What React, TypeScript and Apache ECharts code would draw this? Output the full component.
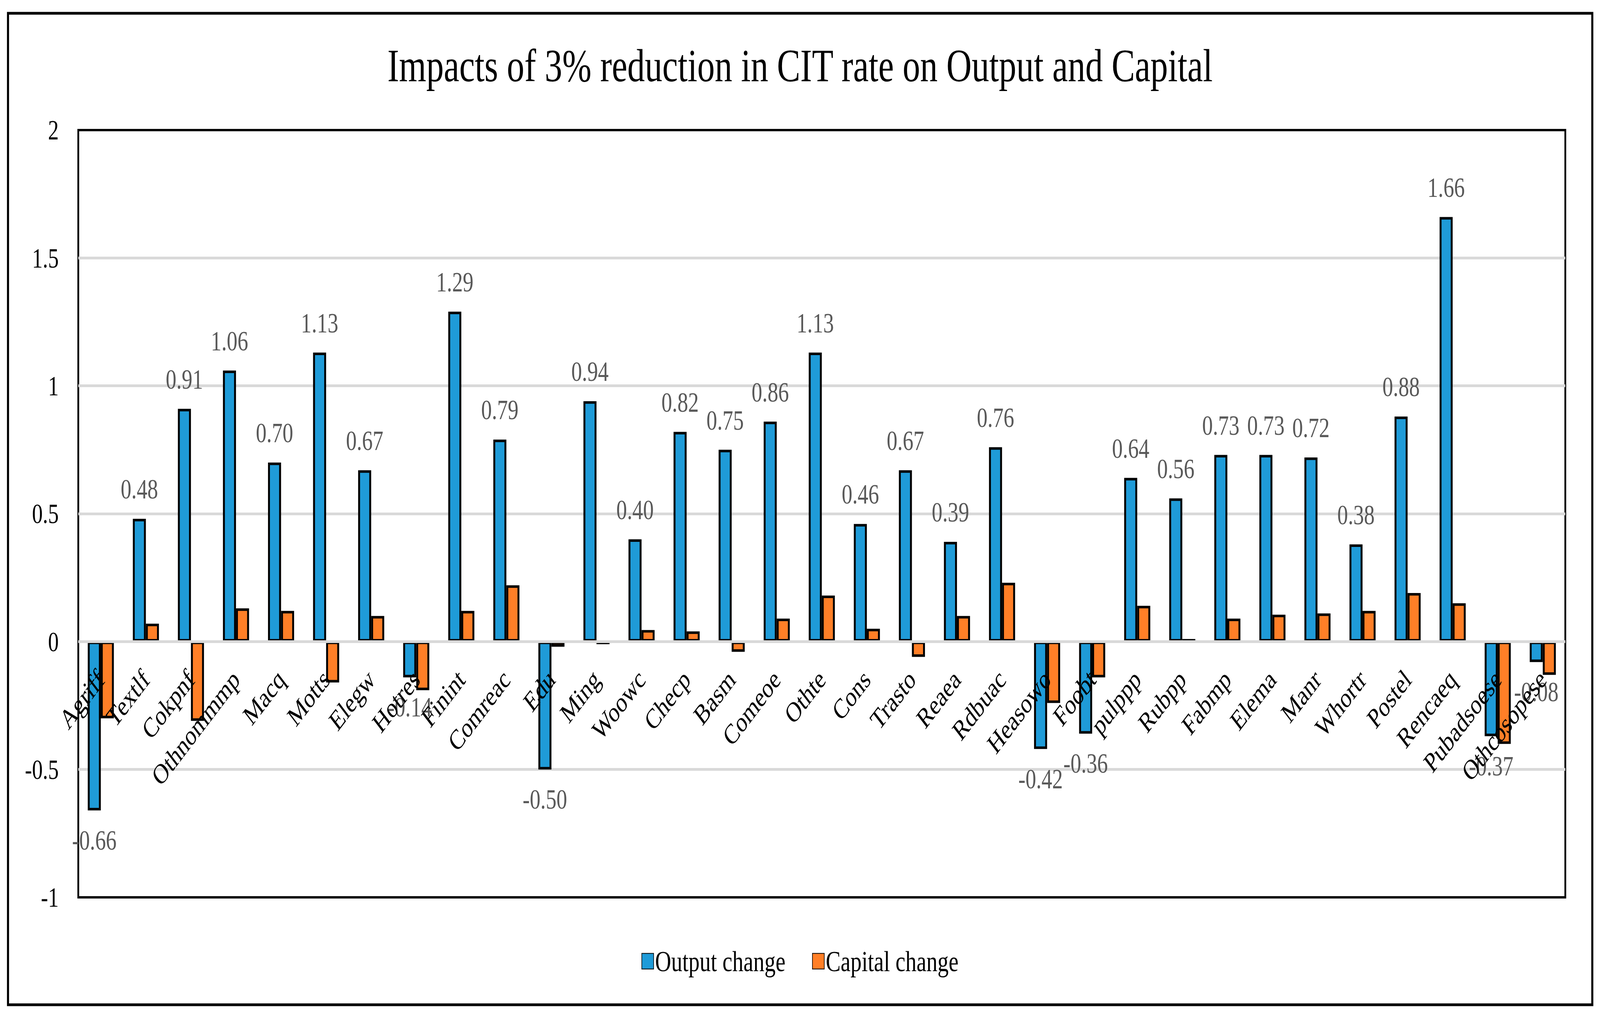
import React, { useEffect, useRef } from "react";
import * as echarts from "echarts";

const categories = [
  "Agriff", "Textlf", "Cokpnf", "Othnommmp", "Macq", "Motts", "Elegw", "Hotres",
  "Finint", "Comreac", "Edu", "Ming", "Woowc", "Checp", "Basm", "Comeoe", "Othte",
  "Cons", "Trasto", "Reaea", "Rdbuac", "Heasowo", "Foobt", "pulppp", "Rubpp",
  "Fabmp", "Elema", "Manr", "Whortr", "Postel", "Rencaeq", "Pubadsoese", "Othcosopese",
];

const outputChange = [
  -0.66, 0.48, 0.91, 1.06, 0.70, 1.13, 0.67, -0.14,
  1.29, 0.79, -0.50, 0.94, 0.40, 0.82, 0.75, 0.86, 1.13,
  0.46, 0.67, 0.39, 0.76, -0.42, -0.36, 0.64, 0.56,
  0.73, 0.73, 0.72, 0.38, 0.88, 1.66, -0.37, -0.08,
];

const capitalChange = [
  -0.30, 0.07, -0.31, 0.13, 0.12, -0.16, 0.10, -0.19,
  0.12, 0.22, -0.02, -0.01, 0.045, 0.04, -0.04, 0.09, 0.18,
  0.05, -0.06, 0.10, 0.23, -0.24, -0.14, 0.14, 0.01,
  0.09, 0.105, 0.11, 0.12, 0.19, 0.15, -0.40, -0.13,
];

const yTicks = { min: -1, max: 2, interval: 0.5 };

const seriesNames = ["Output change", "Capital change"];
const titleText = "Impacts of 3% reduction in CIT rate on Output and Capital";

const FONT = "'Liberation Serif', 'Times New Roman', serif";
const DESIGN_W = 5396;
const DESIGN_H = 2611;

export default function App() {
  const ref = useRef<HTMLDivElement>(null);

  useEffect(() => {
    const el = ref.current;
    if (!el) return;
    const vw = window.innerWidth || DESIGN_W;
    const vh = window.innerHeight || DESIGN_H;
    const sx = vw / DESIGN_W;
    const sy = vh / DESIGN_H;
    el.style.transform = `scale(${sx}, ${sy})`;
    const chart = echarts.init(el, null, { renderer: "svg" });
    const option = {
      animation: false,
      backgroundColor: "#ffffff",
      textStyle: { fontFamily: FONT },
      title: {
        text: titleText,
        left: "center",
        top: 105,
        textStyle: { fontFamily: FONT, fontSize: 118, fontWeight: "normal", color: "#000000" },
      },
      graphic: [
        {
          type: "rect",
          shape: { x: 27, y: 34, width: 5343, height: 2538 },
          style: { fill: "none", stroke: "#000000", lineWidth: 7 },
          silent: true,
          z: 100,
        },
      ],
      legend: {
        data: seriesNames,
        left: "center",
        top: 2418,
        itemWidth: 40,
        itemHeight: 40,
        itemGap: 90,
        icon: "rect",
        textStyle: { fontFamily: FONT, fontSize: 75, color: "#000000" },
      },
      grid: {
        left: 264,
        right: 117,
        top: 333,
        bottom: 314,
        show: true,
        borderColor: "#000000",
        borderWidth: 6,
        backgroundColor: "transparent",
        containLabel: false,
      },
      xAxis: {
        type: "category",
        data: categories,
        z: 10,
        axisLine: { show: false, onZero: false },
        axisTick: { show: false },
        axisLabel: {
          interval: 0,
          rotate: 45,
          margin: -570,
          fontFamily: FONT,
          fontSize: 72,
          color: "#000000",
        },
        splitLine: { show: false },
      },
      yAxis: {
        type: "value",
        min: yTicks.min,
        max: yTicks.max,
        interval: yTicks.interval,
        axisLine: { show: false },
        axisTick: { show: false },
        axisLabel: { margin: 66, fontFamily: FONT, fontSize: 72, color: "#000000" },
        splitLine: {
          show: true,
          showMinLine: false,
          showMaxLine: false,
          lineStyle: { color: "#d9d9d9", width: 7 },
        },
      },
      series: [
        {
          name: seriesNames[0],
          type: "bar",
          barWidth: 44,
          barGap: "0%",
          itemStyle: { color: "#1F9BD8", borderColor: "#000000", borderWidth: 6.5 },
          data: outputChange.map((v) => ({
            value: v,
            label: { position: v < 0 ? "bottom" : "top" },
          })),
          label: {
            show: true,
            distance: 40,
            fontFamily: FONT,
            fontSize: 72,
            color: "#595959",
            formatter: (p: any) => Number(p.value).toFixed(2),
          },
          markLine: {
            silent: true,
            symbol: ["none", "none"],
            label: { show: false },
            lineStyle: { color: "#d9d9d9", width: 7, type: "solid" },
            data: [{ yAxis: 0 }],
            z: 4,
          },
          z: 3,
        },
        {
          name: seriesNames[1],
          type: "bar",
          barWidth: 44,
          barGap: "0%",
          itemStyle: { color: "#FF7F27", borderColor: "#000000", borderWidth: 6.5 },
          data: capitalChange,
          z: 2,
        },
      ],
    };
    chart.setOption(option as any);
    return () => chart.dispose();
  }, []);

  return (
    <div
      ref={ref}
      style={{
        position: "fixed",
        left: 0,
        top: 0,
        width: DESIGN_W,
        height: DESIGN_H,
        background: "#ffffff",
        transformOrigin: "0 0",
      }}
    />
  );
}
